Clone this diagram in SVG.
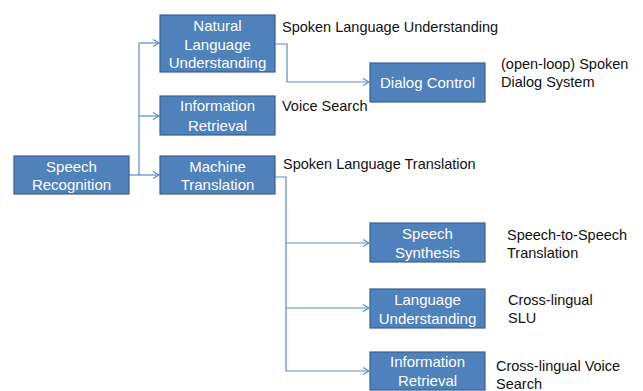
<svg xmlns="http://www.w3.org/2000/svg" width="643" height="391" viewBox="0 0 643 391">
  <style>
    .box { fill: #4f81bd; stroke: #3a6190; stroke-width: 1.2; }
    .nt { font-family: "Liberation Sans", Arial, sans-serif; font-size: 15px; fill: #ffffff; text-anchor: middle; }
    .lbl { font-family: "Liberation Sans", Arial, sans-serif; font-size: 14.5px; fill: #111111; }
    .wire { fill: none; stroke: #5b8cc6; stroke-width: 1.2; }
  </style>
  <defs>
    <marker id="arr" markerUnits="userSpaceOnUse" markerWidth="10" markerHeight="10" refX="7" refY="4" orient="auto">
      <path d="M1,0.5 L7,4 L1,7.5" fill="none" stroke="#5b8cc6" stroke-width="1.2"/>
    </marker>
  </defs>
  <rect width="643" height="391" fill="#ffffff"/>

  <!-- connectors -->
  <g id="connectors">
    <path class="wire" d="M139,43 V175"/>
    <path class="wire" d="M139,43 H159" marker-end="url(#arr)"/>
    <path class="wire" d="M139,116 H159" marker-end="url(#arr)"/>
    <path class="wire" d="M129,175 H159" marker-end="url(#arr)"/>
    <path class="wire" d="M275,44 H287 V82 H369" marker-end="url(#arr)"/>
    <path class="wire" d="M275,177 H286 V371 H369" marker-end="url(#arr)"/>
    <path class="wire" d="M286,243 H369" marker-end="url(#arr)"/>
    <path class="wire" d="M286,308 H369" marker-end="url(#arr)"/>
  </g>

  <g id="speech-recognition">
    <rect class="box" x="14" y="156" width="115" height="38"/>
    <text class="nt" x="71.5" y="172">Speech</text>
    <text class="nt" x="71.5" y="190">Recognition</text>
  </g>

  <g id="nlu">
    <rect class="box" x="160" y="15" width="115" height="57"/>
    <text class="nt" x="217.5" y="31">Natural</text>
    <text class="nt" x="217.5" y="49.5">Language</text>
    <text class="nt" x="217.5" y="68">Understanding</text>
  </g>
  <text class="lbl" x="282" y="32">Spoken Language Understanding</text>

  <g id="information-retrieval">
    <rect class="box" x="160" y="96" width="115" height="39"/>
    <text class="nt" x="217.5" y="111">Information</text>
    <text class="nt" x="217.5" y="131">Retrieval</text>
  </g>
  <text class="lbl" x="282" y="111">Voice Search</text>

  <g id="machine-translation">
    <rect class="box" x="160" y="156" width="115" height="38"/>
    <text class="nt" x="217.5" y="172">Machine</text>
    <text class="nt" x="217.5" y="190">Translation</text>
  </g>
  <text class="lbl" x="283" y="169">Spoken Language Translation</text>

  <g id="dialog-control">
    <rect class="box" x="370" y="63" width="115" height="39"/>
    <text class="nt" x="427.5" y="88">Dialog Control</text>
  </g>
  <text class="lbl" x="501" y="69">(open-loop) Spoken</text>
  <text class="lbl" x="501" y="87">Dialog System</text>

  <g id="speech-synthesis">
    <rect class="box" x="370" y="223" width="115" height="39"/>
    <text class="nt" x="427.5" y="239">Speech</text>
    <text class="nt" x="427.5" y="258">Synthesis</text>
  </g>
  <text class="lbl" x="507" y="240">Speech-to-Speech</text>
  <text class="lbl" x="507" y="258">Translation</text>

  <g id="language-understanding">
    <rect class="box" x="370" y="289" width="115" height="39"/>
    <text class="nt" x="427.5" y="305">Language</text>
    <text class="nt" x="427.5" y="324">Understanding</text>
  </g>
  <text class="lbl" x="508" y="305">Cross-lingual</text>
  <text class="lbl" x="508" y="323">SLU</text>

  <g id="information-retrieval-2">
    <rect class="box" x="370" y="352" width="115" height="38"/>
    <text class="nt" x="427.5" y="367">Information</text>
    <text class="nt" x="427.5" y="386">Retrieval</text>
  </g>
  <text class="lbl" x="496" y="371">Cross-lingual Voice</text>
  <text class="lbl" x="496" y="389">Search</text>
</svg>
